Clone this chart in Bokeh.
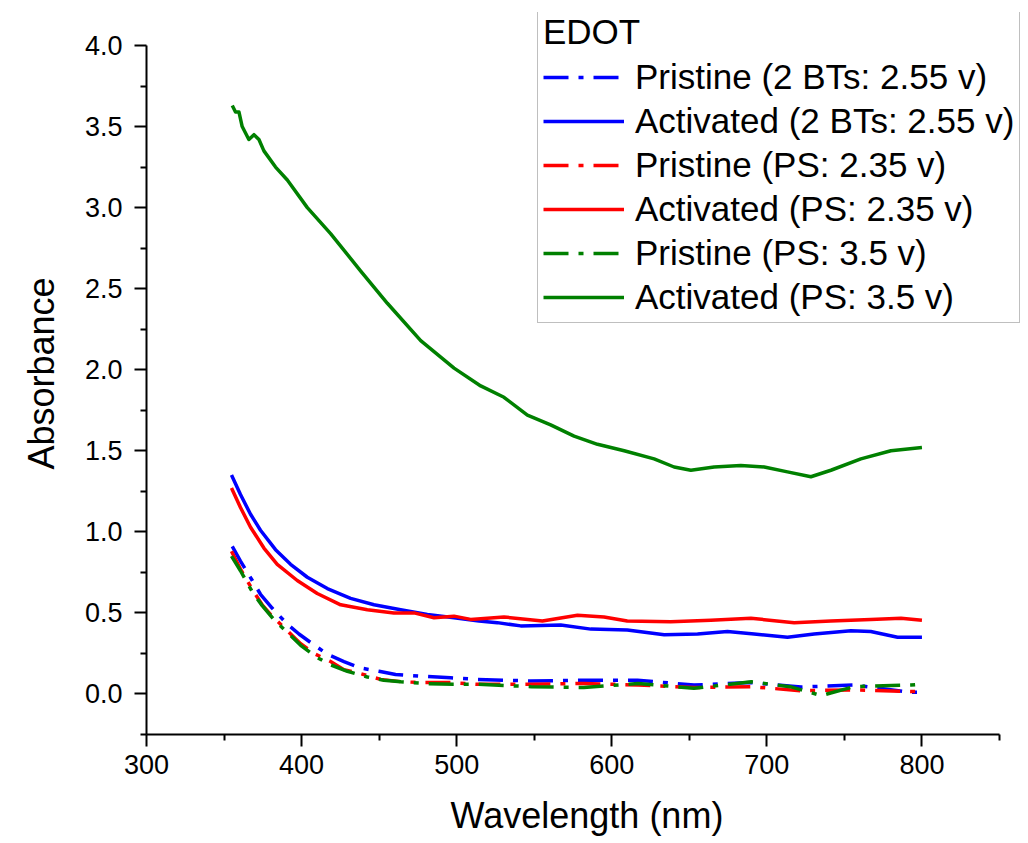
from bokeh.plotting import figure
from bokeh.models import (Legend, LegendItem, FixedTicker, PrintfTickFormatter,
                          Range1d)
from bokeh.embed import file_html
from bokeh.resources import INLINE

# ---- data ----
wl_act_blue = [354.8, 360.6, 367.0, 373.5, 383.2, 392.9, 403.7, 416.6, 431.6, 446.7, 463.9, 481.1,
               498.3, 514.4, 526.2, 541.3, 567.1, 586.5, 610.0, 633.8, 655.3, 674.6, 691.8, 713.3,
               730.5, 754.2, 767.0, 784.3, 800.0]
abs_act_blue = [1.35, 1.23, 1.11, 1.01, 0.89, 0.80, 0.72, 0.65, 0.59, 0.55, 0.52, 0.49,
                0.47, 0.45, 0.44, 0.42, 0.425, 0.40, 0.395, 0.365, 0.37, 0.385, 0.37, 0.35,
                0.37, 0.39, 0.385, 0.35, 0.35]

wl_act_red = [354.8, 360.6, 367.0, 375.7, 384.3, 397.2, 410.1, 425.2, 442.4, 459.5, 472.5, 485.4,
              498.3, 509.0, 530.5, 555.3, 577.9, 595.0, 610.0, 638.0, 663.9, 689.7, 717.6, 741.3,
              767.0, 786.5, 800.0]
abs_act_red = [1.27, 1.15, 1.03, 0.90, 0.80, 0.70, 0.62, 0.55, 0.52, 0.50, 0.50, 0.47,
               0.48, 0.46, 0.475, 0.45, 0.485, 0.475, 0.45, 0.445, 0.455, 0.467, 0.44, 0.45,
               0.46, 0.467, 0.455]

wl_act_green = [355.3, 357.4, 359.6, 361.7, 366.0, 369.3, 372.5, 375.7, 383.2, 390.8, 403.7, 418.7,
                438.0, 455.3, 476.8, 498.3, 515.5, 530.5, 545.6, 560.6, 575.7, 590.8, 608.0, 627.3,
                640.2, 651.0, 666.0, 683.2, 698.3, 713.3, 728.4, 741.3, 760.6, 780.0, 800.0]
abs_act_green = [3.63, 3.59, 3.59, 3.50, 3.42, 3.45, 3.42, 3.35, 3.25, 3.17, 3.00, 2.84,
                 2.61, 2.41, 2.18, 2.01, 1.90, 1.83, 1.72, 1.66, 1.59, 1.54, 1.50, 1.45,
                 1.40, 1.38, 1.40, 1.41, 1.40, 1.37, 1.34, 1.38, 1.45, 1.50, 1.52]

wl_pri_blue = [355.3, 360.6, 368.2, 373.5, 381.0, 390.8, 398.3, 406.9, 416.6, 427.3, 438.0, 449.9,
               460.6, 476.8, 496.1, 513.0, 547.7, 582.0, 616.6, 653.0, 689.7, 722.0, 756.3, 793.0,
               800.0]
abs_pri_blue = [0.91, 0.82, 0.70, 0.615, 0.53, 0.43, 0.37, 0.31, 0.245, 0.20, 0.16, 0.14,
                0.12, 0.11, 0.10, 0.09, 0.08, 0.085, 0.085, 0.055, 0.07, 0.043, 0.055, 0.01,
                0.01]

wl_pri_red = [354.8, 360.6, 368.2, 374.6, 381.0, 390.8, 399.4, 408.0, 418.7, 427.3, 438.0, 451.0,
              463.9, 476.8, 496.0, 513.0, 548.0, 582.0, 617.0, 653.0, 690.0, 722.0, 756.0, 793.0,
              800.0]
abs_pri_red = [0.88, 0.77, 0.645, 0.55, 0.48, 0.39, 0.31, 0.25, 0.20, 0.15, 0.125, 0.09,
               0.076, 0.07, 0.07, 0.06, 0.06, 0.065, 0.055, 0.04, 0.045, 0.02, 0.025, 0.015,
               0.015]

wl_pri_green = [354.8, 360.6, 368.2, 374.6, 382.0, 390.8, 399.4, 410.0, 418.7, 429.5, 442.4, 453.0,
                464.0, 481.0, 498.0, 513.0, 548.0, 582.0, 617.0, 653.0, 690.0, 715.0, 735.0, 756.0,
                793.0, 800.0]
abs_pri_green = [0.85, 0.76, 0.63, 0.545, 0.46, 0.38, 0.30, 0.225, 0.18, 0.14, 0.105, 0.085,
                 0.075, 0.064, 0.06, 0.06, 0.045, 0.04, 0.065, 0.035, 0.075, 0.045, -0.01, 0.045,
                 0.055, 0.06]

series_labels = ["Pristine (2 BTs: 2.55 v)", "Activated (2 BTs: 2.55 v)",
                 "Pristine (PS: 2.35 v)", "Activated (PS: 2.35 v)",
                 "Pristine (PS: 3.5 v)", "Activated (PS: 3.5 v)"]
legend_title = "EDOT"

x_ticks = [300, 400, 500, 600, 700, 800]
x_minor = [350, 450, 550, 650, 750, 850]
y_ticks = [0.0, 0.5, 1.0, 1.5, 2.0, 2.5, 3.0, 3.5, 4.0]
y_minor = [-0.25, 0.25, 0.75, 1.25, 1.75, 2.25, 2.75, 3.25, 3.75]
x_axis_bounds = (300, 850)
y_axis_bounds = (-0.25, 4.0)

FONT = "Liberation Sans"
BLUE, RED, GREEN = "#0000FF", "#FF0000", "#008000"
DASH = "25 10 5 10"
LW = 3.5

# frame extended up/right so the legend (which sits partly outside the axes box) is not clipped
p = figure(width=1028, height=843, frame_width=881, frame_height=722,
           x_range=Range1d(300, 868.06), y_range=Range1d(-0.25, 4.2035),
           output_backend="svg", toolbar_location=None,
           min_border_left=146, min_border_right=1, min_border_top=12, min_border_bottom=109,
           x_axis_label="Wavelength (nm)", y_axis_label="Absorbance")
p.outline_line_color = None
p.grid.visible = False
p.background_fill_color = "white"
p.border_fill_color = "white"

for ax in (p.xaxis[0], p.yaxis[0]):
    ax.axis_line_width = 2
    ax.axis_line_color = "black"
    ax.major_tick_line_width = 2
    ax.minor_tick_line_width = 2
    ax.major_tick_out = 12
    ax.major_tick_in = 0
    ax.minor_tick_out = 6
    ax.minor_tick_in = 0
    ax.major_label_text_font = FONT
    ax.major_label_text_font_size = "27px"
    ax.major_label_text_color = "black"
    ax.axis_label_text_font = FONT
    ax.axis_label_text_font_size = "36px"
    ax.axis_label_text_font_style = "normal"
    ax.axis_label_text_color = "black"

p.xaxis[0].major_label_standoff = 8
p.yaxis[0].major_label_standoff = 12
p.xaxis[0].ticker = FixedTicker(ticks=x_ticks, minor_ticks=x_minor)
p.yaxis[0].ticker = FixedTicker(ticks=y_ticks, minor_ticks=y_minor)
p.xaxis[0].bounds = x_axis_bounds
p.yaxis[0].bounds = y_axis_bounds
p.yaxis[0].formatter = PrintfTickFormatter(format="%.1f")
p.xaxis[0].axis_label_standoff = 18
p.yaxis[0].axis_label_standoff = 20

r1 = p.line(wl_pri_blue, abs_pri_blue, line_color=BLUE, line_width=LW, line_dash=DASH)
r2 = p.line(wl_act_blue, abs_act_blue, line_color=BLUE, line_width=LW, line_join="round")
r3 = p.line(wl_pri_red, abs_pri_red, line_color=RED, line_width=LW, line_dash=DASH)
r4 = p.line(wl_act_red, abs_act_red, line_color=RED, line_width=LW, line_join="round")
r5 = p.line(wl_pri_green, abs_pri_green, line_color=GREEN, line_width=LW, line_dash=DASH)
r6 = p.line(wl_act_green, abs_act_green, line_color=GREEN, line_width=LW, line_join="round")

items = [LegendItem(label=lab, renderers=[r]) for lab, r in
         zip(series_labels, [r1, r2, r3, r4, r5, r6])]
legend = Legend(items=items, title=legend_title, location=(391, 411),
                margin=0, padding=5, spacing=4, label_standoff=11,
                glyph_width=81, glyph_height=40, label_height=40,
                label_text_font=FONT, label_text_font_size="35px", label_text_color="black",
                title_text_font=FONT, title_text_font_size="35px", title_text_color="black",
                title_text_font_style="normal", title_standoff=5,
                border_line_color="#808080", border_line_width=1.5,
                background_fill_color="white", background_fill_alpha=1.0)
p.add_layout(legend, "center")

open("out.html", "w").write(file_html(p, INLINE))
